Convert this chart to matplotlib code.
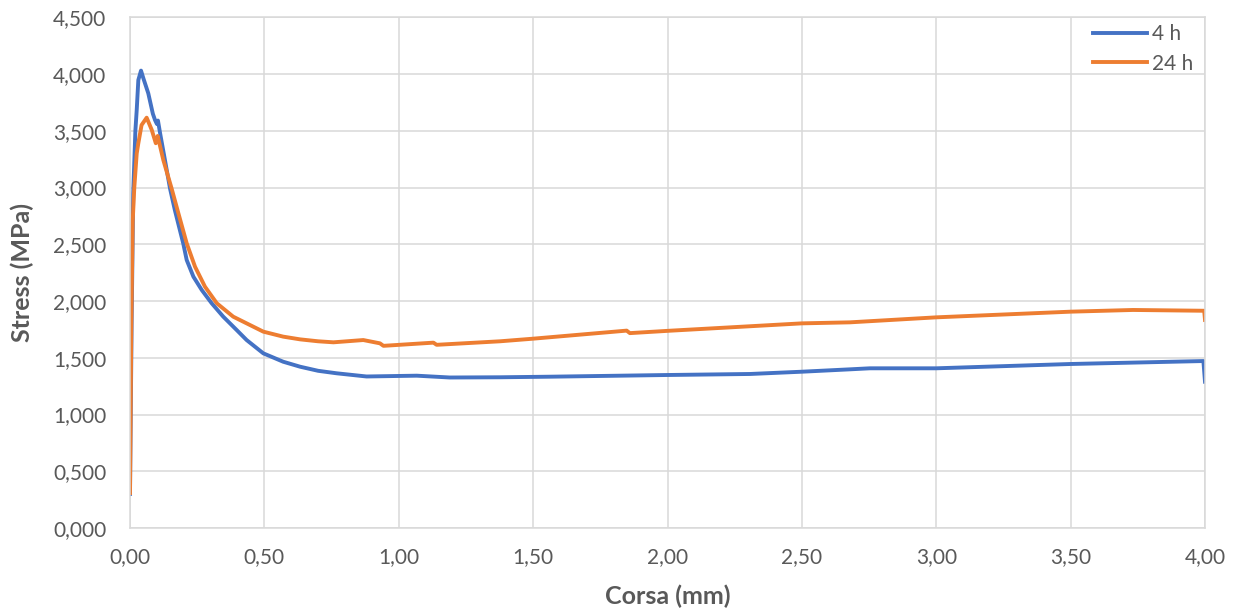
import matplotlib
matplotlib.use('Agg')
import matplotlib.pyplot as plt
from matplotlib.ticker import FuncFormatter

# corsa (mm) / stress
x_4h = [0.000, 0.006, 0.012, 0.020, 0.025, 0.031, 0.041, 0.050, 0.068, 0.085,
        0.093, 0.100, 0.104, 0.112, 0.130, 0.149, 0.167, 0.198, 0.211, 0.236,
        0.267, 0.304, 0.347, 0.397, 0.434, 0.496, 0.570, 0.633, 0.700, 0.769,
        0.880, 1.067, 1.190, 1.377, 1.560, 2.000, 2.307, 2.500, 2.679, 2.753,
        3.000, 3.500, 3.994, 4.000]
y_4h = [0.300, 1.800, 2.950, 3.500, 3.683, 3.947, 4.030, 3.960, 3.830, 3.650,
        3.595, 3.560, 3.590, 3.478, 3.242, 2.990, 2.800, 2.508, 2.361, 2.214,
        2.097, 1.980, 1.862, 1.744, 1.656, 1.539, 1.465, 1.421, 1.385, 1.363,
        1.335, 1.342, 1.326, 1.328, 1.333, 1.348, 1.357, 1.377, 1.398, 1.407,
        1.407, 1.445, 1.471, 1.289]

x_24h = [0.000, 0.005, 0.010, 0.016, 0.025, 0.031, 0.043, 0.062, 0.081, 0.096,
         0.103, 0.124, 0.155, 0.180, 0.211, 0.242, 0.279, 0.323, 0.384, 0.434,
         0.496, 0.570, 0.633, 0.700, 0.757, 0.868, 0.930, 0.943, 1.129, 1.141,
         1.377, 1.500, 1.848, 1.860, 2.000, 2.500, 2.679, 3.000, 3.500, 3.732,
         3.997, 4.000]
y_24h = [0.308, 1.800, 2.700, 3.000, 3.300, 3.390, 3.550, 3.615, 3.507, 3.390,
         3.454, 3.242, 2.990, 2.773, 2.508, 2.302, 2.126, 1.980, 1.862, 1.803,
         1.730, 1.686, 1.662, 1.645, 1.636, 1.656, 1.627, 1.605, 1.633, 1.614,
         1.645, 1.668, 1.739, 1.717, 1.737, 1.803, 1.812, 1.856, 1.906, 1.921,
         1.914, 1.833]

labels = ['4 h', '24 h']
colors = ['#4472C4', '#ED7D31']

plt.rcParams['font.family'] = ['Lato', 'DejaVu Sans']
grey = '#595959'
gridc = '#D9D9D9'

fig = plt.figure(figsize=(12.4, 6.15), dpi=100)
ax = fig.add_axes([130 / 1240, 87 / 615, 1075 / 1240, 510.75 / 615])

ax.plot(x_4h, y_4h, color=colors[0], lw=2.8, label=labels[0], solid_joinstyle='round')
ax.plot(x_24h, y_24h, color=colors[1], lw=2.8, label=labels[1], solid_joinstyle='round')

ax.set_xlim(0, 4)
ax.set_ylim(0, 4.5)
ax.set_xticks([i * 0.5 for i in range(9)])
ax.set_yticks([i * 0.5 for i in range(10)])
ax.xaxis.set_major_formatter(FuncFormatter(lambda v, p: f'{v:.2f}'.replace('.', ',')))
ax.yaxis.set_major_formatter(FuncFormatter(lambda v, p: f'{v:.3f}'.replace('.', ',')))

ax.grid(True, color=gridc, lw=1.1)
ax.set_axisbelow(True)
for s in ax.spines.values():
    s.set_color(gridc)
    s.set_linewidth(1.1)
ax.tick_params(length=0, labelsize=15, colors=grey)
ax.tick_params(axis='y', pad=17)
ax.tick_params(axis='x', pad=14)

ax.set_xlabel('Corsa (mm)', fontsize=18, fontweight='bold', color=grey, labelpad=12)
ax.set_ylabel('Stress (MPa)', fontsize=18, fontweight='bold', color=grey, labelpad=14)

leg = ax.legend(loc='upper left', bbox_to_anchor=(0.896, 0.986), frameon=False,
                fontsize=15, handlelength=2.6, handletextpad=0.2,
                labelspacing=0.45, borderaxespad=0, borderpad=0)
for t in leg.get_texts():
    t.set_color(grey)

fig.savefig('out.png', dpi=100)
